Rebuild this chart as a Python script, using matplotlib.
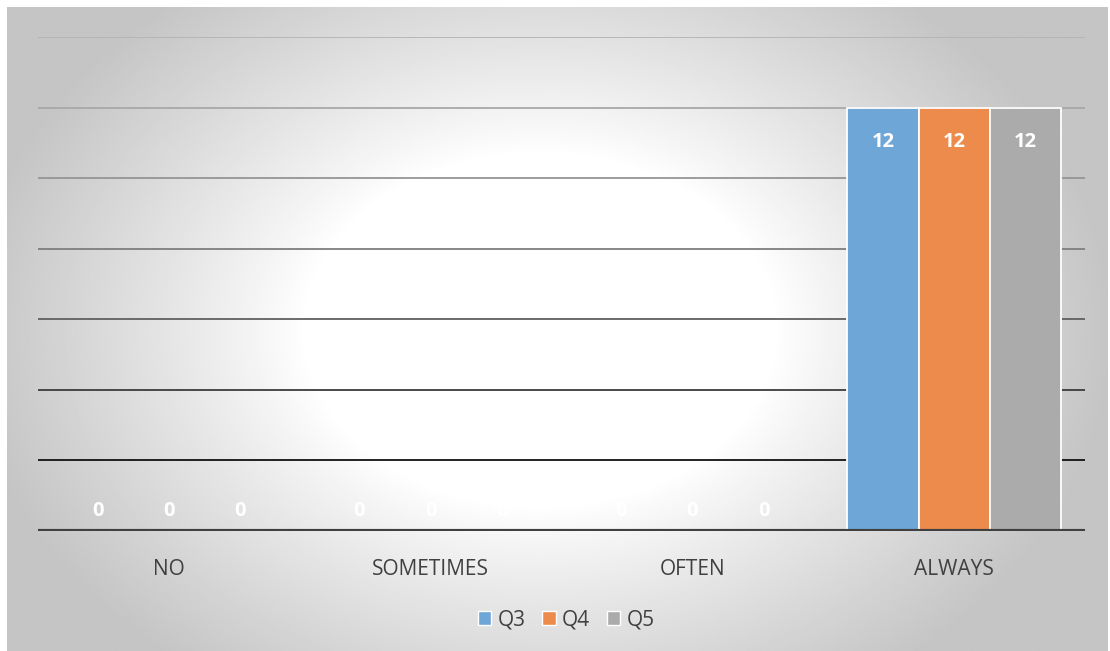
import numpy as np
import matplotlib.pyplot as plt
from matplotlib.patches import Patch

# data
categories = ['NO', 'SOMETIMES', 'OFTEN', 'ALWAYS']
series_names = ['Q3', 'Q4', 'Q5']
q3 = [0, 0, 0, 12]
q4 = [0, 0, 0, 12]
q5 = [0, 0, 0, 12]
yticks = [2, 4, 6, 8, 10, 12, 14]

colors = ['#6fa6d8', '#ec8b4b', '#ababab']
grid_colors = ['#111111', '#3c3c3c', '#606060', '#7e7e7e', '#959595', '#a8a8a8', '#b4b4b4']

plt.rcParams['font.family'] = ['Open Sans', 'DejaVu Sans']

W, H = 1110, 651
fig = plt.figure(figsize=(W / 100, H / 100), dpi=100)

# radial gradient background for the chart area
bg = fig.add_axes([7 / W, 0, (1108 - 7) / W, (H - 7) / H], zorder=0)
xx, yy = np.meshgrid(np.linspace(7, 1108, 600), np.linspace(7, H, 400))
r = np.sqrt(((xx - 540) / 560) ** 2 + ((yy - 330) / 420) ** 2)
val = 255 - 58 * np.clip((r - 0.42) / 0.6, 0, 1) ** 0.9
bg.imshow(val, cmap='gray', vmin=0, vmax=255, aspect='auto',
          extent=[0, 1, 0, 1], interpolation='bilinear')
bg.set_axis_off()

ax = fig.add_axes([38 / W, (H - 531) / H, (1085 - 38) / W, (531 - 37) / H], zorder=1)
ax.patch.set_alpha(0)

x = np.arange(len(categories))
bw = 0.272
for i, (vals, c) in enumerate(zip([q3, q4, q5], colors)):
    xs = x + (i - 1) * bw
    ax.bar(xs, vals, width=bw, color=c, edgecolor='white', linewidth=1.3, zorder=3)
    for xi, v in zip(xs, vals):
        if v > 0:
            ax.text(xi, v - 0.98, str(v), ha='center', va='center', color='white',
                    fontsize=14.5, fontweight='bold', zorder=4)
        else:
            ax.text(xi, 0.58, str(v), ha='center', va='center', color='white',
                    fontsize=14.5, fontweight='bold', zorder=4)

for yv, gc in zip(yticks, grid_colors):
    ax.axhline(yv, color=gc, linewidth=1.3, zorder=1)
ax.axhline(0, color='#404040', linewidth=3, zorder=5)

ax.set_xlim(-0.5, 3.5)
ax.set_ylim(0, 14)
ax.set_yticks([])
ax.set_xticks(x)
ax.set_xticklabels(categories, fontsize=15, color='#404040')
ax.tick_params(axis='x', length=0, pad=20)
for s in ax.spines.values():
    s.set_visible(False)

handles = [Patch(facecolor=c, edgecolor='white', label=n) for c, n in zip(colors, series_names)]
leg = fig.legend(handles=handles, loc='center', bbox_to_anchor=(566 / W, 1 - 620 / H),
                 ncol=3, frameon=False, fontsize=15, handlelength=0.65, handleheight=0.65,
                 handletextpad=0.3, columnspacing=0.8)
for t in leg.get_texts():
    t.set_color('#404040')

plt.savefig('out.png', dpi=100)
